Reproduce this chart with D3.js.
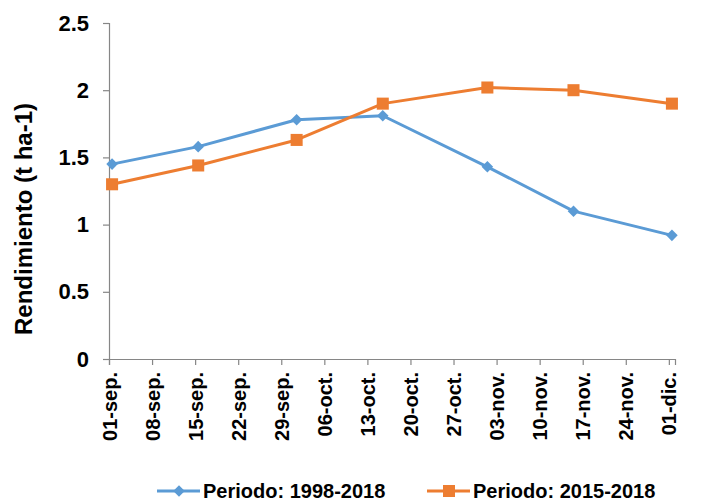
<!DOCTYPE html>
<html>
<head>
<meta charset="utf-8">
<script src="https://cdn.jsdelivr.net/npm/d3@7"></script>
<style>
	body { margin: 0; background: #fff; }
	text { font-family: Arial, "Liberation Sans", sans-serif; font-weight: bold; fill: #000; }
</style>
</head>
<body>
<div id="chart"></div>
<script>

// data
var fechas = ["2018-09-01", "2018-09-15", "2018-10-01", "2018-10-15", "2018-11-01", "2018-11-15", "2018-12-01"];
var periodo1998 = [1.45, 1.58, 1.78, 1.81, 1.43, 1.10, 0.92];
var periodo2015 = [1.30, 1.44, 1.63, 1.90, 2.02, 2.00, 1.90];
var seriesNames = ["Periodo: 1998-2018", "Periodo: 2015-2018"];

// tick labels of the axes
var tickDates = ["2018-09-01", "2018-09-08", "2018-09-15", "2018-09-22", "2018-09-29", "2018-10-06",
	"2018-10-13", "2018-10-20", "2018-10-27", "2018-11-03", "2018-11-10", "2018-11-17",
	"2018-11-24", "2018-12-01"];
var meses = ["ene.", "feb.", "mar.", "abr.", "may.", "jun.", "jul.", "ago.", "sep.", "oct.", "nov.", "dic."];
var yTicks = [0, 0.5, 1, 1.5, 2, 2.5];

var width = 720,
	height = 502,
	margin = {top: 23, left: 109, right: 45, bottom: 143};

var parse = d3.timeParse("%Y-%m-%d");

var svg = d3.select("#chart")
	.append("svg")
	.attr("width", width)
	.attr("height", height);

// excel date axis: runs one day past the last date, points sit mid day
var x = d3.scaleTime()
	.domain([parse("2018-09-01"), parse("2018-12-02")])
	.range([margin.left, width - margin.right]);

var y = d3.scaleLinear()
	.domain([0, 2.5])
	.range([height - margin.bottom, margin.top]);

function xMid(d){

	return x(d3.timeHour.offset(d, 12));
}

function fmt(d){

	return d3.timeFormat("%d")(d) + "-" + meses[d.getMonth()];
}

// y axis
var yAxis = svg.append("g")
	.attr("transform", "translate(" + margin.left + ",0)")
	.call(d3.axisLeft(y).tickValues(yTicks).tickSize(6).tickPadding(14)
		.tickFormat(function(d){ return String(d); }));

yAxis.selectAll("text").style("font-size", "22px");

// x axis
var xAxis = svg.append("g")
	.attr("transform", "translate(0," + y(0) + ")")
	.call(d3.axisBottom(x).tickValues(tickDates.map(parse)).tickSize(6).tickFormat(fmt));

xAxis.selectAll("text")
	.style("font-size", "20px")
	.attr("text-anchor", "end")
	.attr("dy", "0.35em")
	.attr("transform", "rotate(-90)")
	.attr("x", -13)
	.attr("y", 0);

svg.selectAll(".domain, .tick line")
	.attr("stroke", "#868686")
	.attr("stroke-width", 1.2);

// y axis title
svg.append("text")
	.attr("transform", "translate(32,219) rotate(-90)")
	.attr("text-anchor", "middle")
	.style("font-size", "24px")
	.text("Rendimiento (t ha-1)");

var colors = ["#5B9BD5", "#ED7D31"];
var series = [periodo1998, periodo2015];

var line = d3.line()
	.x(function(d){ return xMid(d.date); })
	.y(function(d){ return y(d.value); });

var diamond = d3.symbol().type(d3.symbolDiamond2).size(85);
var square = d3.symbol().type(d3.symbolSquare).size(145);

series.forEach(function(values, i){

	var pts = values.map(function(v, j){

		return {date: parse(fechas[j]), value: v};
	});

	svg.append("path")
		.datum(pts)
		.attr("fill", "none")
		.attr("stroke", colors[i])
		.attr("stroke-width", 3)
		.attr("stroke-linejoin", "round")
		.attr("d", line);

	svg.append("g")
		.selectAll("path")
		.data(pts)
		.enter()
		.append("path")
		.attr("transform", function(d){

			return "translate(" + xMid(d.date) + "," + y(d.value) + ")";
		})
		.attr("fill", colors[i])
		.attr("d", i === 0 ? diamond : square);
});

// legend
var legendX = [157, 427];

seriesNames.forEach(function(name, i){

	var g = svg.append("g")
		.attr("transform", "translate(" + legendX[i] + ",491)");

	g.append("line")
		.attr("x1", 0)
		.attr("x2", 43)
		.attr("stroke", colors[i])
		.attr("stroke-width", 3);

	g.append("path")
		.attr("transform", "translate(22,0)")
		.attr("fill", colors[i])
		.attr("d", i === 0 ? diamond : square);

	g.append("text")
		.attr("x", 46)
		.attr("dy", "0.35em")
		.style("font-size", "20px")
		.text(name);
});
</script>
</body>
</html>
